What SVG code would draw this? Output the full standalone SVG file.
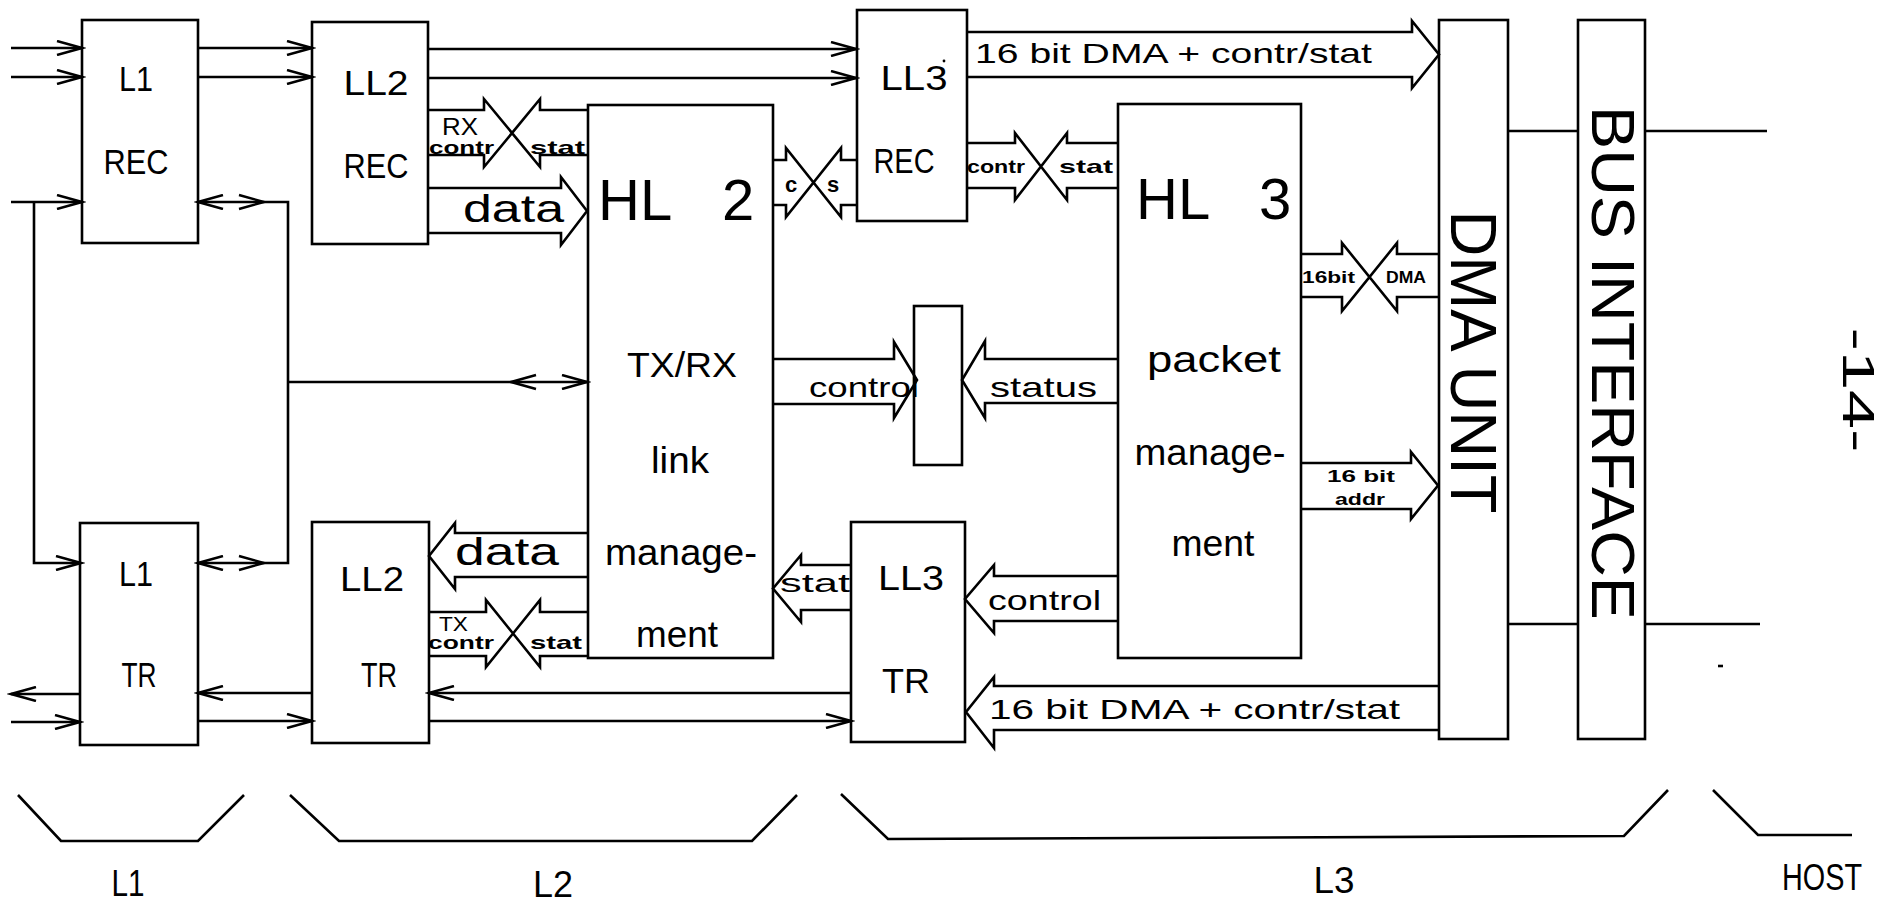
<svg xmlns="http://www.w3.org/2000/svg" xmlns:xlink="http://www.w3.org/1999/xlink" width="1885" height="904" viewBox="0 0 1885 904">
<style>
.box{fill:none;stroke:#000;stroke-width:2.6}
.ln{fill:none;stroke:#000;stroke-width:2.6;stroke-linejoin:miter}
.t{font-family:"Liberation Sans",Arial,sans-serif;fill:#000}
.lbl{font-size:35px}
.big{font-size:58px}
.lc{font-size:36px}
.mid{font-size:28px}
.sm{font-size:19px;font-weight:bold}
.xs{font-size:17px;font-weight:bold}
</style>
<defs>
<marker id="arr" viewBox="0 0 30 16" markerWidth="30" markerHeight="16" refX="26" refY="8" orient="auto-start-reverse" markerUnits="userSpaceOnUse">
<path d="M1,1 L26,8 L1,15" fill="none" stroke="#000" stroke-width="2.5"/>
</marker>
<path id="headR" d="M-25,-7 L0,0 L-25,7" fill="none" stroke="#000" stroke-width="2.5"/>
</defs>
<rect width="1885" height="904" fill="#fff"/>

<g id="l1rec">
<rect class="box" x="82" y="20" width="116" height="223"/>
<text class="t lbl" x="136" y="91" text-anchor="middle" textLength="34" lengthAdjust="spacingAndGlyphs">L1</text>
<text class="t lbl" x="136" y="174" text-anchor="middle" textLength="65" lengthAdjust="spacingAndGlyphs">REC</text>
</g>
<g id="ll2rec">
<rect class="box" x="312" y="22" width="116" height="222"/>
<text class="t lbl" x="376" y="95" text-anchor="middle" textLength="65" lengthAdjust="spacingAndGlyphs">LL2</text>
<text class="t lbl" x="376" y="178" text-anchor="middle" textLength="65" lengthAdjust="spacingAndGlyphs">REC</text>
</g>
<g id="hl2">
<rect class="box" x="588" y="105" width="185" height="553"/>
<text class="t big" x="598" y="220">HL <tspan x="722">2</tspan></text>
<text class="t lbl" x="682" y="377" text-anchor="middle" textLength="110" lengthAdjust="spacingAndGlyphs">TX/RX</text>
<text class="t lc" x="680" y="473" text-anchor="middle" textLength="58" lengthAdjust="spacingAndGlyphs">link</text>
<text class="t lc" x="681" y="565" text-anchor="middle" textLength="152" lengthAdjust="spacingAndGlyphs">manage-</text>
<text class="t lc" x="677" y="647" text-anchor="middle" textLength="82" lengthAdjust="spacingAndGlyphs">ment</text>
</g>
<g id="ll3rec">
<rect class="box" x="857" y="10" width="110" height="211"/>
<text class="t lbl" x="914" y="90" text-anchor="middle" textLength="67" lengthAdjust="spacingAndGlyphs">LL3</text>
<circle cx="944" cy="61" r="1.4" fill="#000"/>
<text class="t lbl" x="904" y="173" text-anchor="middle" textLength="61" lengthAdjust="spacingAndGlyphs">REC</text>
</g>
<g id="hl3">
<rect class="box" x="1118" y="104" width="183" height="554"/>
<text class="t big" x="1136" y="219">HL <tspan x="1259">3</tspan></text>
<text class="t lc" x="1214" y="372" text-anchor="middle" textLength="134" lengthAdjust="spacingAndGlyphs">packet</text>
<text class="t lc" x="1210" y="465" text-anchor="middle" textLength="151" lengthAdjust="spacingAndGlyphs">manage-</text>
<text class="t lc" x="1213" y="556" text-anchor="middle" textLength="83" lengthAdjust="spacingAndGlyphs">ment</text>
</g>
<g id="dma">
<rect class="box" x="1439" y="20" width="69" height="719"/>
<text class="t" font-size="64" transform="translate(1451,362) rotate(90)" text-anchor="middle" textLength="303" lengthAdjust="spacingAndGlyphs">DMA UNIT</text>
</g>
<g id="bus">
<rect class="box" x="1578" y="20" width="67" height="719"/>
<text class="t" font-size="62" transform="translate(1592,363) rotate(90)" text-anchor="middle" textLength="514" lengthAdjust="spacingAndGlyphs">BUS INTERFACE</text>
</g>
<g id="midbox">
<rect class="box" x="914" y="306" width="48" height="159"/>
</g>
<g id="l1tr">
<rect class="box" x="80" y="523" width="118" height="222"/>
<text class="t lbl" x="136" y="586" text-anchor="middle" textLength="34" lengthAdjust="spacingAndGlyphs">L1</text>
<text class="t lbl" x="139" y="687" text-anchor="middle" textLength="35" lengthAdjust="spacingAndGlyphs">TR</text>
</g>
<g id="ll2tr">
<rect class="box" x="312" y="522" width="117" height="221"/>
<text class="t lbl" x="372" y="591" text-anchor="middle" textLength="64" lengthAdjust="spacingAndGlyphs">LL2</text>
<text class="t lbl" x="379" y="687" text-anchor="middle" textLength="36" lengthAdjust="spacingAndGlyphs">TR</text>
</g>
<g id="ll3tr">
<rect class="box" x="851" y="522" width="114" height="220"/>
<text class="t lbl" x="911" y="590" text-anchor="middle" textLength="66" lengthAdjust="spacingAndGlyphs">LL3</text>
<text class="t lbl" x="906" y="693" text-anchor="middle" textLength="48" lengthAdjust="spacingAndGlyphs">TR</text>
</g>
<g id="pagenum">
<text class="t" font-size="44" transform="translate(1843,390) rotate(90)" text-anchor="middle" textLength="125" lengthAdjust="spacingAndGlyphs">-14-</text>
</g>

<g id="connectors">
<path class="ln" d="M11,48 H82" marker-end="url(#arr)"/>
<path class="ln" d="M11,77 H82" marker-end="url(#arr)"/>
<path class="ln" d="M11,202 H82" marker-end="url(#arr)"/>
<path class="ln" d="M34,202 V563 H81" marker-end="url(#arr)"/>
<path class="ln" d="M198,48 H312" marker-end="url(#arr)"/>
<path class="ln" d="M198,77 H312" marker-end="url(#arr)"/>
<path class="ln" d="M428,49 H856" marker-end="url(#arr)"/>
<path class="ln" d="M428,78 H856" marker-end="url(#arr)"/>
<path class="ln" d="M198,202 H288 V563 H198" marker-start="url(#arr)" marker-end="url(#arr)"/>
<use xlink:href="#headR" transform="translate(264,202)"/>
<use xlink:href="#headR" transform="translate(264,563)"/>
<path class="ln" d="M288,382 H587" marker-end="url(#arr)"/>
<use xlink:href="#headR" transform="translate(511,382) rotate(180)"/>
<path class="ln" d="M80,694 H11" marker-end="url(#arr)"/>
<path class="ln" d="M11,722 H80" marker-end="url(#arr)"/>
<path class="ln" d="M312,693 H198" marker-end="url(#arr)"/>
<path class="ln" d="M198,721 H312" marker-end="url(#arr)"/>
<path class="ln" d="M851,693 H429" marker-end="url(#arr)"/>
<path class="ln" d="M429,721 H851" marker-end="url(#arr)"/>
<path class="ln" d="M1508,131 H1578 M1645,131 H1767"/>
<path class="ln" d="M1508,624 H1578 M1645,624 H1760"/>
<path class="ln" d="M1718,666 H1723" stroke-width="2"/>

<!-- RX contr / stat -->
<path class="ln" d="M428,110 H484 V99 L540,167 V155 H587 M428,155 H484 V167 L540,99 V110 H587"/>
<text class="t" font-size="24" x="442" y="135" textLength="36" lengthAdjust="spacingAndGlyphs">RX</text>
<text class="t sm" x="429" y="154" textLength="65" lengthAdjust="spacingAndGlyphs">contr</text>
<text class="t sm" x="530" y="154" textLength="55" lengthAdjust="spacingAndGlyphs">stat</text>
<!-- data -> HL2 -->
<path class="ln" d="M428,188 H561 V177 L587,211 L561,245 V233 H428"/>
<text class="t" font-size="38" x="463" y="222" textLength="101" lengthAdjust="spacingAndGlyphs">data</text>
<!-- c / s -->
<path class="ln" d="M773,160 H786 V148 L841,217 V205 H857 M773,205 H786 V217 L841,148 V160 H857"/>
<text class="t" font-size="22" font-weight="bold" x="785" y="192">c</text>
<text class="t" font-size="22" font-weight="bold" x="827" y="192">s</text>
<!-- top 16 bit DMA -->
<path class="ln" d="M967,32 H1412 V21 L1439,54.5 L1412,88 V77 H967"/>
<text class="t mid" x="975" y="63" textLength="397" lengthAdjust="spacingAndGlyphs">16 bit DMA + contr/stat</text>
<!-- contr / stat LL3-HL3 -->
<path class="ln" d="M967,143 H1015 V133 L1067,200 V188 H1118 M967,188 H1015 V200 L1067,133 V143 H1118"/>
<text class="t sm" x="967" y="173" textLength="58" lengthAdjust="spacingAndGlyphs">contr</text>
<text class="t sm" x="1059" y="173" textLength="54" lengthAdjust="spacingAndGlyphs">stat</text>
<!-- 16bit / DMA -->
<path class="ln" d="M1301,254 H1342 V243 L1397,311 V297 H1439 M1301,297 H1342 V311 L1397,243 V254 H1439"/>
<text class="t xs" x="1302" y="283" textLength="53" lengthAdjust="spacingAndGlyphs">16bit</text>
<text class="t xs" x="1386" y="283" textLength="40" lengthAdjust="spacingAndGlyphs">DMA</text>
<!-- 16 bit addr -->
<path class="ln" d="M1301,463 H1411 V452 L1438,485.5 L1411,519 V509 H1301"/>
<text class="t xs" x="1327" y="482" textLength="68" lengthAdjust="spacingAndGlyphs">16 bit</text>
<text class="t xs" x="1335" y="505" textLength="50" lengthAdjust="spacingAndGlyphs">addr</text>
<!-- control / status to middle box -->
<path class="ln" d="M773,359 H894 V342 L917,380 L894,418 V404 H773"/>
<text class="t mid" x="809" y="397" textLength="110" lengthAdjust="spacingAndGlyphs">control</text>
<path class="ln" d="M1118,359 H985 V341 L962,380 L985,418 V403 H1118"/>
<text class="t mid" x="990" y="397" textLength="107" lengthAdjust="spacingAndGlyphs">status</text>
<!-- data -> LL2 TR -->
<path class="ln" d="M588,533 H455 V523 L429,556 L455,589 V577 H588"/>
<text class="t" font-size="38" x="455" y="565" textLength="104" lengthAdjust="spacingAndGlyphs">data</text>
<!-- TX contr / stat -->
<path class="ln" d="M429,612 H486 V600 L540,667 V656 H588 M429,656 H486 V667 L540,600 V612 H588"/>
<text class="t" font-size="21" x="439" y="631" textLength="29" lengthAdjust="spacingAndGlyphs">TX</text>
<text class="t sm" x="428" y="649" textLength="66" lengthAdjust="spacingAndGlyphs">contr</text>
<text class="t sm" x="530" y="649" textLength="52" lengthAdjust="spacingAndGlyphs">stat</text>
<!-- stat LL3 TR -> HL2 -->
<path class="ln" d="M851,565 H801 V555 L773,588.5 L801,622 V610 H851"/>
<text class="t" font-size="26" x="780" y="592" textLength="70" lengthAdjust="spacingAndGlyphs">stat</text>
<!-- control HL3 -> LL3 TR -->
<path class="ln" d="M1118,576 H994 V565 L965,599 L994,633 V621 H1118"/>
<text class="t mid" x="988" y="610" textLength="113" lengthAdjust="spacingAndGlyphs">control</text>
<!-- bottom 16 bit DMA -->
<path class="ln" d="M1439,686 H994 V677 L966,712 L994,748 V730 H1439"/>
<text class="t mid" x="989" y="719" textLength="411" lengthAdjust="spacingAndGlyphs">16 bit DMA + contr/stat</text>
</g>

<g id="brackets">
<path class="ln" d="M18,795 L61,841 H198 L244,795"/>
<path class="ln" d="M290,795 L339,841 H752 L797,795"/>
<path class="ln" d="M841,794 L888,839 L1624,836 L1668,790"/>
<path class="ln" d="M1713,790 L1758,835 H1852"/>
<text class="t" font-size="36" x="128" y="896" text-anchor="middle" textLength="33" lengthAdjust="spacingAndGlyphs">L1</text>
<text class="t" font-size="36" x="553" y="897" text-anchor="middle" textLength="40" lengthAdjust="spacingAndGlyphs">L2</text>
<text class="t" font-size="36" x="1334" y="893" text-anchor="middle" textLength="41" lengthAdjust="spacingAndGlyphs">L3</text>
<text class="t" font-size="36" x="1822" y="890" text-anchor="middle" textLength="80" lengthAdjust="spacingAndGlyphs">HOST</text>
</g>
</svg>
